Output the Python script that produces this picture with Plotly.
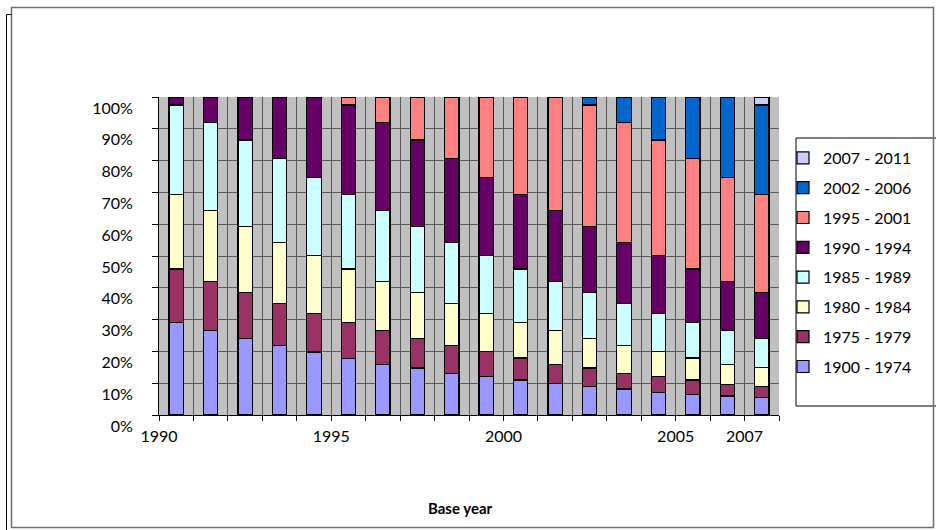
import plotly.graph_objects as go

years = list(range(1990, 2008))
tick_labels = ["1990", "1995", "2000", "2005", "2007"]
tick_years = [1990, 1995, 2000, 2005, 2007]
y_ticks = list(range(0, 101, 10))
y_tick_labels = [f"{v}%" for v in y_ticks]

series_names = ["1900 - 1974", "1975 - 1979", "1980 - 1984", "1985 - 1989",
                "1990 - 1994", "1995 - 2001", "2002 - 2006", "2007 - 2011"]

s1900 = [29.0, 26.6, 24.1, 21.9, 19.8, 17.8, 16.0, 14.8, 13.1, 12.0, 11.0, 9.8, 9.0, 8.2, 7.2, 6.5, 6.0, 5.5]
s1975 = [16.9, 15.5, 14.3, 13.1, 12.2, 11.2, 10.6, 9.3, 8.8, 7.9, 6.9, 6.2, 5.8, 4.9, 4.8, 4.5, 3.7, 3.5]
s1980 = [23.4, 22.3, 21.0, 19.2, 18.1, 16.9, 15.5, 14.3, 13.1, 12.1, 11.1, 10.6, 9.3, 8.8, 7.9, 6.9, 6.3, 6.0]
s1985 = [28.2, 27.6, 27.1, 26.4, 24.7, 23.4, 22.3, 21.0, 19.2, 18.1, 16.9, 15.5, 14.3, 13.1, 12.1, 11.1, 10.6, 9.1]
s1990 = [2.5, 8.0, 13.5, 19.4, 25.2, 28.2, 27.6, 27.1, 26.4, 24.7, 23.4, 22.3, 21.0, 19.2, 18.1, 16.9, 15.5, 14.3]
s1995 = [None, None, None, None, None, 2.5, 8.0, 13.5, 19.4, 25.2, 30.7, 35.6, 38.1, 37.8, 36.4, 34.7, 32.7, 30.9]
s2002 = [None] * 12 + [2.5, 8.0, 13.5, 19.4, 25.2, 28.2]
s2007 = [None] * 17 + [2.5]

all_series = [s1900, s1975, s1980, s1985, s1990, s1995, s2002, s2007]
colors = ["#9999FF", "#993366", "#FFFFCC", "#CCFFFF",
          "#660066", "#FF8080", "#0066CC", "#CCCCFF"]

FONT = "Lato"
W, H = 936, 530
L, R, T, B = 159, 779, 97, 415


def px2x(px):
    return (px - L) / (R - L)


def px2y(py):
    return (B - py) / (B - T)


fig = go.Figure()
for i, (name, vals, col) in enumerate(zip(series_names, all_series, colors)):
    fig.add_trace(go.Bar(
        x=years, y=vals, name=name, legendgroup=name, legendrank=100 - i,
        marker=dict(color=col, line=dict(color="#000000", width=1.2)),
    ))

fig.update_layout(
    width=W, height=H,
    barmode="stack", barnorm="percent", bargap=0.585,
    paper_bgcolor="white", plot_bgcolor="#C0C0C0",
    margin=dict(l=L, r=W - R, t=T, b=H - B, autoexpand=False),
    font=dict(family=FONT, size=16, color="#000000"),
    showlegend=True,
    legend=dict(
        x=px2x(783), y=px2y(141), xanchor="left", yanchor="top",
        traceorder="grouped", tracegroupgap=6,
        bgcolor="rgba(0,0,0,0)", borderwidth=0,
        font=dict(family=FONT, size=16, color="#000000"),
        itemwidth=30,
    ),
    xaxis=dict(
        range=[1989.5, 2007.5],
        tickmode="array",
        tickvals=[y - 0.5 for y in tick_years],
        ticktext=tick_labels,
        ticks="outside", ticklen=5, tickcolor="#000000", tickwidth=1,
        ticklabelstandoff=2,
        showline=True, linecolor="#000000", linewidth=1,
        showgrid=True, gridcolor="#5A5A5A", gridwidth=1,
        minor=dict(tick0=1989.5, dtick=1, ticks="outside", ticklen=5,
                   tickcolor="#000000", showgrid=True, gridcolor="#5A5A5A", gridwidth=1),
        zeroline=False,
        tickfont=dict(family=FONT, size=16),
    ),
    yaxis=dict(
        range=[0, 100], tickmode="array", tickvals=y_ticks, ticktext=y_tick_labels,
        ticks="outside", ticklen=6, tickcolor="#000000", tickwidth=1,
        ticklabelstandoff=16, ticklabelshift=11,
        showline=True, linecolor="#000000", linewidth=1,
        showgrid=True, gridcolor="#5A5A5A", gridwidth=1,
        zeroline=False,
        tickfont=dict(family=FONT, size=16),
    ),
)

fig.add_annotation(
    text="<b>Base year</b>", xref="paper", yref="paper",
    x=px2x(460), y=px2y(508), xanchor="center", yanchor="middle",
    showarrow=False, font=dict(family=FONT, size=15, color="#000000"),
)

shapes = [
    # legend box
    dict(type="rect", xref="paper", yref="paper", layer="below",
         x0=px2x(796), x1=px2x(945), y0=px2y(406), y1=px2y(138),
         line=dict(color="#000000", width=1), fillcolor="white"),
    # outer frames
    dict(type="rect", xref="paper", yref="paper", layer="below",
         x0=px2x(11.5), x1=px2x(933.5), y0=px2y(527.5), y1=px2y(7.5),
         line=dict(color="#6E6E6E", width=1.5), fillcolor="rgba(0,0,0,0)"),
    dict(type="line", xref="paper", yref="paper", layer="below",
         x0=px2x(6.5), x1=px2x(6.5), y0=px2y(14.5), y1=px2y(535),
         line=dict(color="#000000", width=1)),
    dict(type="line", xref="paper", yref="paper", layer="below",
         x0=px2x(6.5), x1=px2x(11.5), y0=px2y(14.5), y1=px2y(14.5),
         line=dict(color="#000000", width=1)),
]
fig.update_layout(shapes=shapes)

fig.write_html("out.html", config={"displayModeBar": False},
               post_script="document.body.style.margin='0';")
